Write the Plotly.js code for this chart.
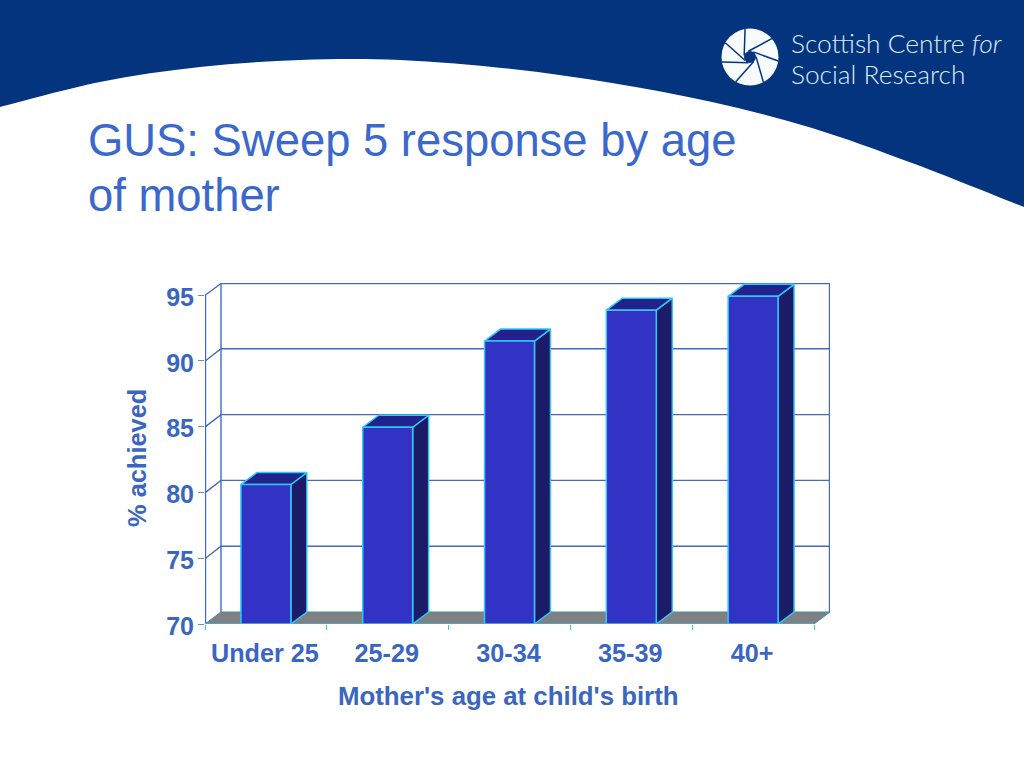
<!DOCTYPE html>
<html><head><meta charset="utf-8">
<script src="https://cdn.plot.ly/plotly-3.0.1.min.js"></script>
<style>html,body{margin:0;padding:0;background:#fff}#chart{width:1024px;height:768px}</style>
</head><body><div id="chart"></div>
<script>
const categories = ["Under 25", "25-29", "30-34", "35-39", "40+"];
const achieved = [80.6, 84.95, 91.5, 93.85, 94.9];
const yTicks = [70, 75, 80, 85, 90, 95];
const titleLines = ["GUS: Sweep 5 response by age", "of mother"];
const xTitle = "Mother's age at child's birth";
const yTitle = "% achieved";

const blue = "#3a66c2", titleBlue = "#3a68cc", grid = "#4468c4", edge = "#2fc8f8";
const frontCol = "#3232c4", topCol = "#22228c", sideCol = "#1b1b68", floorCol = "#808080", header = "#05347f";
const L = 205, R = 830, T = 283, B = 624, W = 1024, H = 768;
const depthX = 16 / 121.8, depthY = 12 / 13.16, barW = 0.41;
const yMin = 70, yMax = 95 + depthY, xMax = categories.length + depthX;
const nudgeX = 0.5 / 121.8, nudgeY = 0.5 / 13.16; // keep edge lines crisp on the pixel grid
const font = "Liberation Sans, Arial, sans-serif";

function poly(xs, ys, fill, line, lw) {
  return {type: "scatter", mode: "lines", x: xs.concat(xs[0]), y: ys.concat(ys[0]), fill: "toself", fillcolor: fill,
    line: {color: line, width: lw === undefined ? 1.5 : lw}, hoverinfo: "skip", showlegend: false, cliponaxis: false};
}
function seg(xs, ys, color, w) {
  return {type: "scatter", mode: "lines", x: xs, y: ys, line: {color: color, width: w || 1.4}, hoverinfo: "skip", showlegend: false, cliponaxis: false};
}
const traces = [];
traces.push(poly([0, depthX, xMax, categories.length], [yMin, yMin + depthY, yMin + depthY, yMin], floorCol, "#3f8fb0", 1));
yTicks.forEach(v => {
  if (v > yMin) {
    const top = v === 95 ? v + depthY - nudgeY : v + depthY;
    traces.push(seg([nudgeX, depthX, xMax], [v, top, top], grid));
  }
});
traces.push(seg([nudgeX, nudgeX], [yMin, 95], grid));
traces.push(seg([depthX, depthX], [yMin + depthY, 95 + depthY], grid));
traces.push(seg([xMax - nudgeX, xMax - nudgeX], [yMin + depthY, 95 + depthY - nudgeY], grid));
traces.push(seg([0, categories.length], [yMin, yMin], edge, 1.2));
categories.forEach((c, i) => {
  const a = i + 0.5 - barW / 2, b = i + 0.5 + barW / 2, v = achieved[i];
  traces.push(poly([b, b + depthX, b + depthX, b], [yMin, yMin + depthY, v + depthY, v], sideCol, edge));
  traces.push(poly([a, a + depthX, b + depthX, b], [v, v + depthY, v + depthY, v], topCol, edge));
  traces.push(poly([a, b, b, a], [yMin, yMin, v, v], frontCol, edge));
});

const px = x => (x - L) / (R - L), py = y => (B - y) / (B - T);
const curveX = [0, 100, 200, 300, 400, 512, 612, 712, 812, 912, 1024];
const curveY = [107, 82, 67, 60, 60, 69, 83, 102, 128, 163, 207];
function pt(x, y) { return px(x).toFixed(5) + "," + py(y).toFixed(5); }
function headerPath() {
  let d = "M" + pt(0, 0) + " L" + pt(1024, 0) + " L" + pt(curveX[curveX.length - 1], curveY[curveY.length - 1]);
  for (let i = curveX.length - 1; i > 0; i--) {
    const p = Math.min(i + 1, curveX.length - 1), q = Math.max(i - 2, 0);
    const c1x = curveX[i] + (curveX[i - 1] - curveX[p]) / 6, c1y = curveY[i] + (curveY[i - 1] - curveY[p]) / 6;
    const c2x = curveX[i - 1] + (curveX[i] - curveX[q]) / 6, c2y = curveY[i - 1] + (curveY[i] - curveY[q]) / 6;
    d += " C" + pt(c1x, c1y) + " " + pt(c2x, c2y) + " " + pt(curveX[i - 1], curveY[i - 1]);
  }
  return d + " Z";
}
const shapes = [{type: "path", xref: "paper", yref: "paper", path: headerPath(), fillcolor: header, line: {width: 0}, layer: "below"}];
const logoC = [750, 57], logoR = 28.5;
shapes.push({type: "circle", xref: "paper", yref: "paper", x0: px(logoC[0] - logoR), x1: px(logoC[0] + logoR), y0: py(logoC[1] + logoR), y1: py(logoC[1] - logoR), fillcolor: "#f8fbfd", line: {width: 0}, layer: "below"});
const bladeAngles = [100, 40, -8, -62, -120, -170, 150];
bladeAngles.forEach(deg => {
  const t = deg * Math.PI / 180, o = t + 1.15;
  const x1 = logoC[0] + logoR * Math.cos(t), y1 = logoC[1] - logoR * Math.sin(t);
  const x2 = logoC[0] + 6 * Math.cos(o), y2 = logoC[1] - 6 * Math.sin(o);
  shapes.push({type: "line", xref: "paper", yref: "paper", x0: px(x1), y0: py(y1), x1: px(x2), y1: py(y2), line: {color: header, width: 1.5}, layer: "below"});
});
shapes.push({type: "circle", xref: "paper", yref: "paper", x0: px(744), x1: px(756), y0: py(63), y1: py(51), fillcolor: header, line: {width: 0}, layer: "below"});

const logoFont = {family: "Lato, Noto Sans, sans-serif", size: 26.3, color: "#dcecf6", weight: 300};
const note = (x, y, text, f, extra) => Object.assign({xref: "paper", yref: "paper", x: px(x), y: py(y), xanchor: "left", yanchor: "middle", align: "left", showarrow: false, text: text, font: f}, extra || {});
const titleFont = {family: font, size: 45.4, color: titleBlue};
const axisFont = {family: font, size: 25.8, color: blue, weight: "bold"};
const annotations = [
  note(85.5, 141, titleLines[0], titleFont),
  note(85.5, 195, titleLines[1], titleFont),
  note(789, 43, "Scottish Centre <i>for</i>", logoFont),
  note(789, 74, "Social Research", logoFont),
  note(508, 696, xTitle, axisFont, {xanchor: "center"}),
  note(137, 458, yTitle, {family: font, size: 25.4, color: blue, weight: "bold"}, {xanchor: "center", textangle: -90})
];

const layout = {
  width: W, height: H, paper_bgcolor: "#fff", plot_bgcolor: "rgba(0,0,0,0)", showlegend: false, hovermode: false,
  margin: {l: L, r: W - R, t: T, b: H - B, pad: 0},
  xaxis: {range: [0, xMax], tickmode: "array", tickvals: categories.map((c, i) => i + 0.5), ticktext: categories, ticks: "", showgrid: false, zeroline: false, showline: false,
    ticklabelstandoff: 12, ticklabelshift: -1,
    tickfont: {family: font, size: 25.2, color: blue, weight: "bold"},
    minor: {tickmode: "array", tickvals: [0, 1, 2, 3, 4, 5], ticks: "outside", ticklen: 5, tickcolor: edge, tickwidth: 1, showgrid: false}},
  yaxis: {range: [yMin, yMax], tickmode: "array", tickvals: yTicks, ticks: "outside", ticklen: 6, tickcolor: "#6a8ad0", tickwidth: 1, showgrid: false, zeroline: false, showline: false,
    tickfont: {family: font, size: 25, color: blue, weight: "bold"}, ticklabelstandoff: -1, ticklabelshift: 2},
  shapes: shapes, annotations: annotations
};
Plotly.newPlot("chart", traces, layout, {displayModeBar: false, responsive: false});
</script></body></html>
